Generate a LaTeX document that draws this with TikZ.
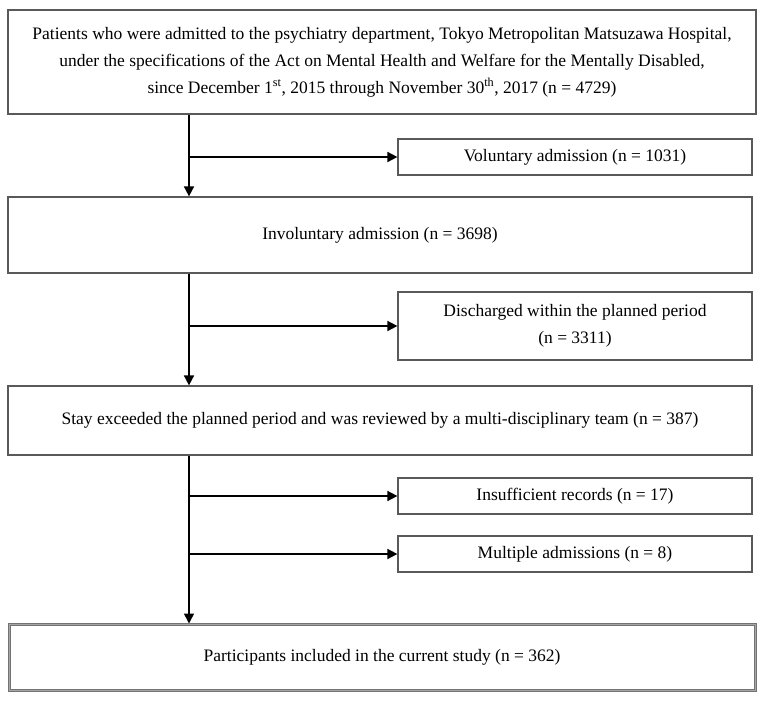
\documentclass[tikz,border=0pt]{standalone}
\usepackage{fontspec}
\setmainfont{Liberation Serif}
\usetikzlibrary{arrows.meta}
\tikzset{
  box/.style={draw=black!65, line width=1.2pt, align=center, inner sep=0pt,
    font=\fontsize{17.5}{27}\selectfont},
  arr/.style={draw=black, line width=1.6pt, -{Triangle[length=10pt,width=10pt]}}
}
\begin{document}
\begin{tikzpicture}[x=1pt,y=-1pt]
    \useasboundingbox (0,0) rectangle (765,701);
    % boxes of the main column
    \node[box, minimum width=748pt, minimum height=104pt] (patients) at (382,62)
        {Patients who were admitted to the psychiatry department, Tokyo Metropolitan Matsuzawa Hospital,\\
         under the specifications of the Act on Mental Health and Welfare for the Mentally Disabled,\\
         since December 1\textsuperscript{st}, 2015 through November 30\textsuperscript{th}, 2017 (n = 4729)};
    \node[box, minimum width=744pt, minimum height=76pt] (invol) at (380,235) {Involuntary admission (n = 3698)};
    \node[box, minimum width=744pt, minimum height=69pt] (stay) at (380,420.5)
        {Stay exceeded the planned period and was reviewed by a multi-disciplinary team (n = 387)};
    \node[box, draw=black!55, line width=1pt, double=black!35, double distance=1pt,
        minimum width=746pt, minimum height=66pt] (final) at (382,657)
        {Participants included in the current study (n = 362)};
    % excluded boxes
    \node[box, minimum width=354pt, minimum height=36pt] (vol) at (575,157) {Voluntary admission (n = 1031)};
    \node[box, minimum width=354pt, minimum height=68pt] (disch) at (575,326)
        {Discharged within the planned period\\(n = 3311)};
    \node[box, minimum width=354pt, minimum height=36pt] (insuff) at (575,496) {Insufficient records (n = 17)};
    \node[box, minimum width=354pt, minimum height=36pt] (multi) at (575,554) {Multiple admissions (n = 8)};
    % spine and branches
    \coordinate (spine) at (189,0);
    \draw[arr] (patients.south -| spine) -- (invol.north -| spine);
    \draw[arr] (invol.south -| spine) -- (stay.north -| spine);
    \draw[arr] (stay.south -| spine) -- (final.north -| spine);
    \draw[arr] (vol.west -| spine) -- (vol.west);
    \draw[arr] (disch.west -| spine) -- (disch.west);
    \draw[arr] (insuff.west -| spine) -- (insuff.west);
    \draw[arr] (multi.west -| spine) -- (multi.west);
\end{tikzpicture}
\end{document}
